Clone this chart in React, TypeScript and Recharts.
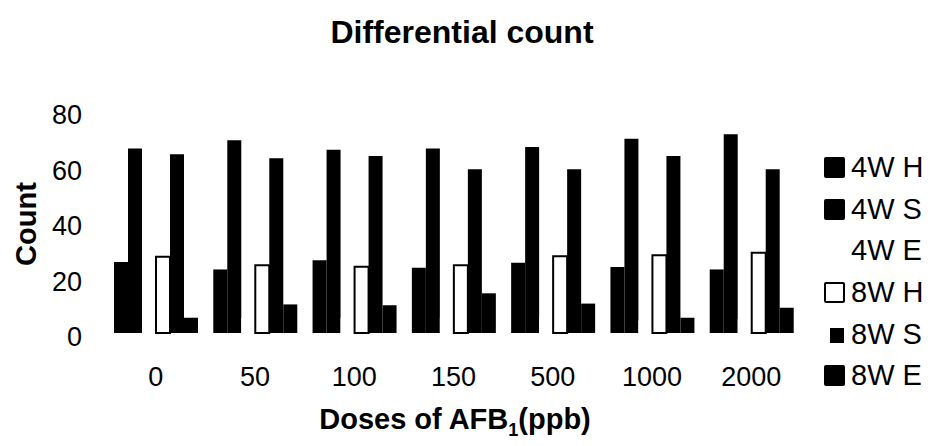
import { BarChart, Bar, XAxis, YAxis } from 'recharts'

const doses = ['0', '50', '100', '150', '500', '1000', '2000']
const w4H = [25.6, 22.9, 26.2, 23.5, 25.3, 23.8, 22.9]
const w4S = [66.5, 69.5, 66, 66.5, 67, 70, 71.6]
const w4E = [5.5, 5.5, 5.5, 5.5, 5.5, 4.5, 5]
const w8H = [27.5, 24.4, 23.9, 24.4, 27.7, 28, 28.9]
const w8S = [64.4, 63, 63.8, 59, 59, 63.8, 59]
const w8E = [5.5, 10.3, 10, 14.3, 10.6, 5.5, 9.1]
const yTicks = [0, 20, 40, 60, 80]

const data = doses.map((dose, i) => ({
  dose,
  '4W H': w4H[i],
  '4W S': w4S[i],
  '4W E': w4E[i],
  '8W H': w8H[i],
  '8W S': w8S[i],
  '8W E': w8E[i],
}))

const font = '"Liberation Sans", Arial, sans-serif'

// legend marker styles, as drawn in the source figure
const legendItems = [
  { name: '4W H', marker: 'solid' },
  { name: '4W S', marker: 'solid' },
  { name: '4W E', marker: 'none' },
  { name: '8W H', marker: 'hollow' },
  { name: '8W S', marker: 'small' },
  { name: '8W E', marker: 'solid' },
]

function YTick(props: any) {
  const { y, payload } = props
  return (
    <text x={82} y={y} dy={13} textAnchor="end" fontSize={27} fontFamily={font} fill="#000">
      {payload.value}
    </text>
  )
}

function XTick(props: any) {
  const { x, y, payload } = props
  return (
    <text x={x} y={y} dy={45} textAnchor="middle" fontSize={27} fontFamily={font} fill="#000">
      {payload.value}
    </text>
  )
}

function ChartLegend() {
  return (
    <div style={{ position: 'absolute', left: 822, top: 147, fontFamily: font, fontSize: 29, color: '#000' }}>
      {legendItems.map((item) => (
        <div key={item.name} style={{ display: 'flex', alignItems: 'center', height: 41.6 }}>
          <div style={{ width: 29, height: 21, position: 'relative' }}>
            {item.marker === 'solid' && (
              <div style={{ position: 'absolute', left: 2, top: 0, width: 21, height: 21, background: '#000', borderRadius: 2 }} />
            )}
            {item.marker === 'hollow' && (
              <div style={{ position: 'absolute', left: 2, top: 0, width: 17, height: 17, border: '2px solid #000', background: '#fff', borderRadius: 2 }} />
            )}
            {item.marker === 'small' && (
              <div style={{ position: 'absolute', left: 8, top: 4, width: 14, height: 15, background: '#000' }} />
            )}
          </div>
          <span style={{ lineHeight: '29px' }}>{item.name}</span>
        </div>
      ))}
    </div>
  )
}

export default function App() {
  return (
    <div style={{ position: 'absolute', left: 0, top: 0, width: 935, height: 446, background: '#fff' }}>
      <div
        style={{
          position: 'absolute', left: 0, top: 16, width: 924, textAlign: 'center',
          fontFamily: font, fontWeight: 'bold', fontSize: 32, lineHeight: '32px',
        }}
      >
        Differential count
      </div>
      <div
        style={{
          position: 'absolute', left: 26 - 60, top: 224 - 15, width: 120, height: 30, lineHeight: '30px',
          textAlign: 'center', transform: 'rotate(-90deg)',
          fontFamily: font, fontWeight: 'bold', fontSize: 29,
        }}
      >
        Count
      </div>
      <div
        style={{
          position: 'absolute', left: 255, top: 404, width: 400, textAlign: 'center',
          fontFamily: font, fontWeight: 'bold', fontSize: 29, lineHeight: '30px',
        }}
      >
        Doses of AFB<sub style={{ fontSize: 18, lineHeight: 0 }}>1</sub>(ppb)
      </div>
      <BarChart
        width={935}
        height={446}
        data={data}
        margin={{ top: 111, right: 134, bottom: 83, left: 0 }}
        barGap={0}
        barSize={14}
      >
        <XAxis dataKey="dose" height={30} axisLine={false} tickLine={false} tick={<XTick />} interval={0} />
        <YAxis width={106} domain={[0, 80]} ticks={yTicks} axisLine={false} tickLine={false} tick={<YTick />} />
        <Bar dataKey="4W H" fill="#000" isAnimationActive={false} />
        <Bar dataKey="4W S" fill="#000" isAnimationActive={false} />
        <Bar dataKey="4W E" fill="#fff" isAnimationActive={false} />
        <Bar dataKey="8W H" fill="#fff" stroke="#000" strokeWidth={2} isAnimationActive={false} />
        <Bar dataKey="8W S" fill="#000" isAnimationActive={false} />
        <Bar dataKey="8W E" fill="#000" isAnimationActive={false} />
      </BarChart>
      <ChartLegend />
    </div>
  )
}
